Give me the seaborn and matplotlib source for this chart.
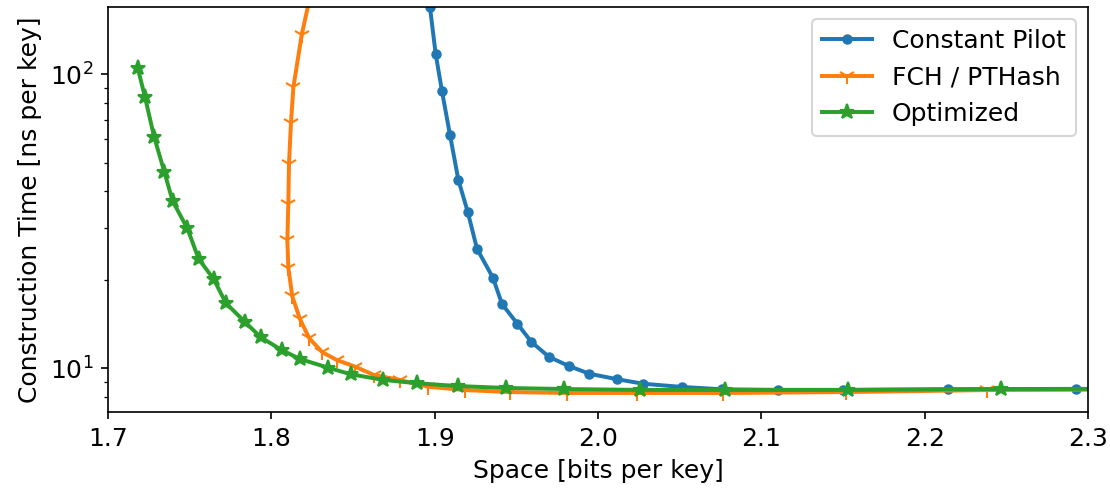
import matplotlib
matplotlib.use("Agg")
import matplotlib.pyplot as plt
import seaborn as sns
import pandas as pd

# Data
pilot_x = [1.8922, 1.8971, 1.9006, 1.9045, 1.9094, 1.9145, 1.9202, 1.9259, 1.9357, 1.9412,
           1.9506, 1.9592, 1.9700, 1.9821, 1.9947, 2.0116, 2.0276, 2.0514, 2.0757, 2.1105,
           2.1500, 2.2143, 2.2925, 2.3800]
pilot_y = [287.0, 169.3, 117.4, 87.4, 62.1, 43.7, 34.1, 25.5, 20.3, 16.55,
           14.18, 12.29, 10.93, 10.18, 9.58, 9.18, 8.86, 8.64, 8.48, 8.44,
           8.44, 8.48, 8.48, 8.50]

fch_x = [1.8260, 1.8186, 1.8135, 1.8120, 1.8108, 1.8104, 1.8098, 1.8104, 1.8128, 1.8175,
         1.8232, 1.8312, 1.8400, 1.8512, 1.8628, 1.8788, 1.8961, 1.9186, 1.9461, 1.9810,
         2.0239, 2.0768, 2.1519, 2.2382, 2.3500]
fch_y = [210.0, 136.3, 90.4, 68.2, 49.5, 36.2, 27.3, 22.0, 17.6, 14.7,
         12.65, 11.34, 10.67, 10.13, 9.49, 9.12, 8.65, 8.43, 8.30, 8.24,
         8.24, 8.24, 8.30, 8.43, 8.50]

opt_x = [1.7182, 1.7227, 1.7282, 1.7345, 1.7396, 1.7486, 1.7555, 1.7647, 1.7722, 1.7837,
         1.7935, 1.8063, 1.8174, 1.8347, 1.8486, 1.8686, 1.8894, 1.9143, 1.9437, 1.9792,
         2.0257, 2.0778, 2.1531, 2.2467, 2.3600]
opt_y = [105.0, 83.4, 61.4, 46.5, 37.0, 29.9, 23.55, 20.1, 16.65, 14.4,
         12.75, 11.54, 10.76, 10.05, 9.54, 9.13, 8.89, 8.70, 8.57, 8.50,
         8.44, 8.44, 8.44, 8.50, 8.52]

series_names = ["Constant Pilot", "FCH / PTHash", "Optimized"]
x_ticks = [1.7, 1.8, 1.9, 2.0, 2.1, 2.2, 2.3]

plt.rcParams["font.size"] = 12
plt.rcParams["font.family"] = ["DejaVu Sans"]

fig, ax = plt.subplots(figsize=(7.4, 493 / 150), dpi=150)
fig.subplots_adjust(left=0.0973, right=0.9802, top=0.9868, bottom=0.1643)

colors = ["#1f77b4", "#ff7f0e", "#2ca02c"]
markers = [".", "1", "*"]
msizes = [8, 8, 7.5]
for name, xs, ys, c, m, ms in zip(series_names, [pilot_x, fch_x, opt_x], [pilot_y, fch_y, opt_y],
                                  colors, markers, msizes):
    df = pd.DataFrame({"x": xs, "y": ys})
    sns.lineplot(data=df, x="x", y="y", ax=ax, sort=False, estimator=None,
                 color=c, marker=m, markersize=ms, markeredgecolor=c,
                 markeredgewidth=1.0, linewidth=1.9, label=name)

ax.set_yscale("log")
ax.set_xlim(1.7, 2.3)
ax.set_ylim(7.1, 170)
ax.set_xticks(x_ticks)
ax.set_xticklabels([f"{t:.1f}" for t in x_ticks])
ax.set_xlabel("Space [bits per key]")
ax.set_ylabel("Construction Time [ns per key]")
ax.legend(loc="upper right")

fig.savefig("out.png", dpi=150)
